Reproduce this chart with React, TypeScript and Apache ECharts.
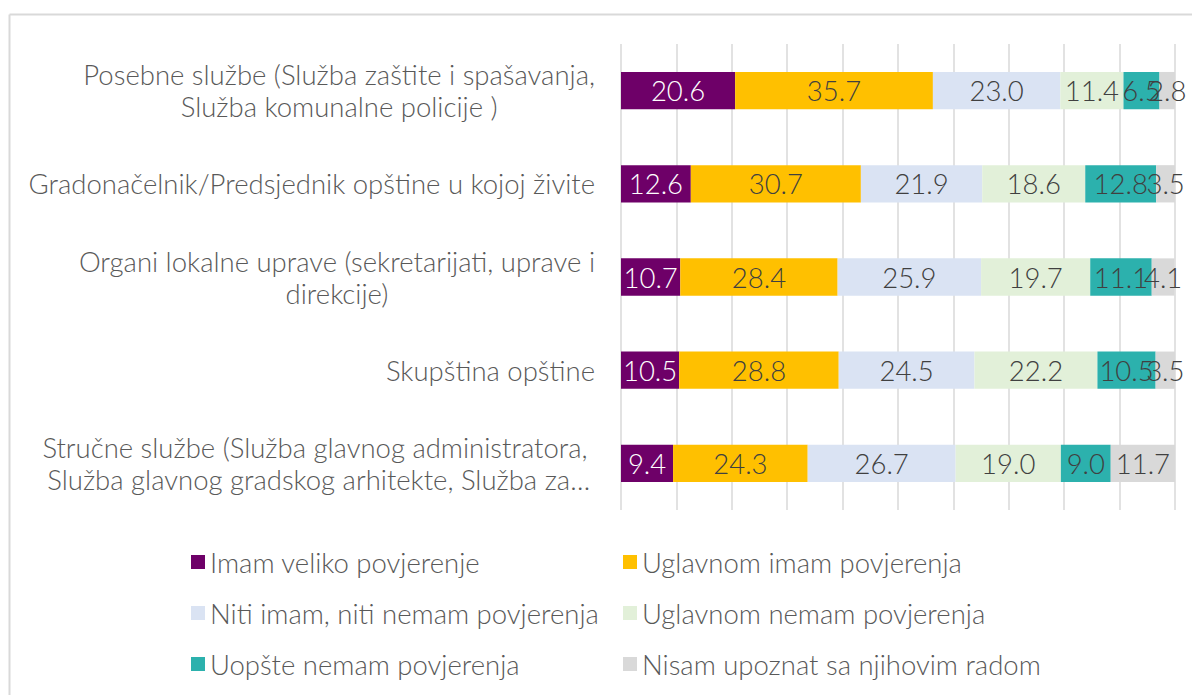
import React, { useEffect, useRef } from "react";
import * as echarts from "echarts";

const categories = [
  "Posebne službe (Služba zaštite i spašavanja,\nSlužba komunalne policije )",
  "Gradonačelnik/Predsjednik opštine u kojoj živite",
  "Organi lokalne uprave (sekretarijati, uprave i\ndirekcije)",
  "Skupština opštine",
  "Stručne službe (Služba glavnog administratora, \nSlužba glavnog gradskog arhitekte, Služba za…",
];

const seriesNames = [
  "Imam veliko povjerenje",
  "Uglavnom imam povjerenja",
  "Niti imam, niti nemam povjerenja",
  "Uglavnom nemam povjerenja",
  "Uopšte nemam povjerenja",
  "Nisam upoznat sa njihovim radom",
];

const imamVeliko = [20.6, 12.6, 10.7, 10.5, 9.4];
const uglavnomImam = [35.7, 30.7, 28.4, 28.8, 24.3];
const nitiNiti = [23.0, 21.9, 25.9, 24.5, 26.7];
const uglavnomNemam = [11.4, 18.6, 19.7, 22.2, 19.0];
const uopsteNemam = [6.5, 12.8, 11.1, 10.5, 9.0];
const nisamUpoznat = [2.8, 3.5, 4.1, 3.5, 11.7];

const seriesValues = [imamVeliko, uglavnomImam, nitiNiti, uglavnomNemam, uopsteNemam, nisamUpoznat];
const colors = ["#6E0068", "#FFC000", "#DAE3F3", "#E2F0D9", "#2CB1AD", "#D9D9D9"];
const labelColors = ["#FFFFFF", "#404040", "#404040", "#404040", "#404040", "#404040"];

const FONT = "Lato";
const FS = 27.5;
const FW = 300;

export default function App() {
  const ref = useRef<HTMLDivElement>(null);
  useEffect(() => {
    if (!ref.current) return;
    const chart = echarts.init(ref.current, null, { renderer: "svg" });
    const legendCommon = {
      orient: "vertical" as const,
      top: 542,
      itemWidth: 14,
      itemHeight: 14,
      itemGap: 21,
      icon: "rect",
      textStyle: { fontFamily: FONT, fontSize: FS, fontWeight: FW, color: "#595959", lineHeight: 30 },
    };
    chart.setOption({
      animation: false,
      backgroundColor: "#FFFFFF",
      grid: { left: 621, right: 17, top: 44, bottom: 185, containLabel: false },
      xAxis: {
        type: "value",
        min: 0,
        max: 100,
        interval: 10,
        axisLabel: { show: false },
        axisLine: { show: false },
        axisTick: { show: false },
        splitLine: { show: true, lineStyle: { color: "#D9D9D9", width: 1.5 } },
      },
      yAxis: {
        type: "category",
        inverse: true,
        data: categories,
        axisLine: { show: false },
        axisTick: { show: false },
        axisLabel: {
          interval: 0,
          margin: 26,
          fontFamily: FONT,
          fontSize: FS,
          fontWeight: FW,
          color: "#595959",
          lineHeight: 32,
          formatter: (v: string) =>
            v
              .split("\n")
              .map((l) => `{c|${l}}`)
              .join("\n"),
          rich: {
            c: { align: "center", fontFamily: FONT, fontSize: FS, fontWeight: FW, color: "#595959", lineHeight: 32 },
          },
        },
      },
      legend: [
        { ...legendCommon, left: 186, data: [seriesNames[0], seriesNames[2], seriesNames[4]] },
        { ...legendCommon, left: 618, data: [seriesNames[1], seriesNames[3], seriesNames[5]] },
      ],
      graphic: [
        { type: "line", shape: { x1: 9.5, y1: 14.5, x2: 1192, y2: 14.5 }, style: { stroke: "#D9D9D9", lineWidth: 2 } },
        { type: "line", shape: { x1: 9.5, y1: 14.5, x2: 9.5, y2: 695 }, style: { stroke: "#D9D9D9", lineWidth: 2 } },
      ],
      series: seriesNames.map((name, i) => ({
        name,
        type: "bar",
        stack: "total",
        barWidth: "40%",
        data: seriesValues[i],
        itemStyle: { color: colors[i] },
        label: {
          show: true,
          position: "inside",
          fontFamily: FONT,
          fontSize: FS,
          fontWeight: FW,
          color: labelColors[i],
          formatter: (p: any) => Number(p.value).toFixed(1),
        },
      })),
    });
    return () => chart.dispose();
  }, []);
  return (
    <div
      ref={ref}
      style={{ position: "fixed", left: 0, top: 0, width: 1192, height: 695 }}
    />
  );
}
